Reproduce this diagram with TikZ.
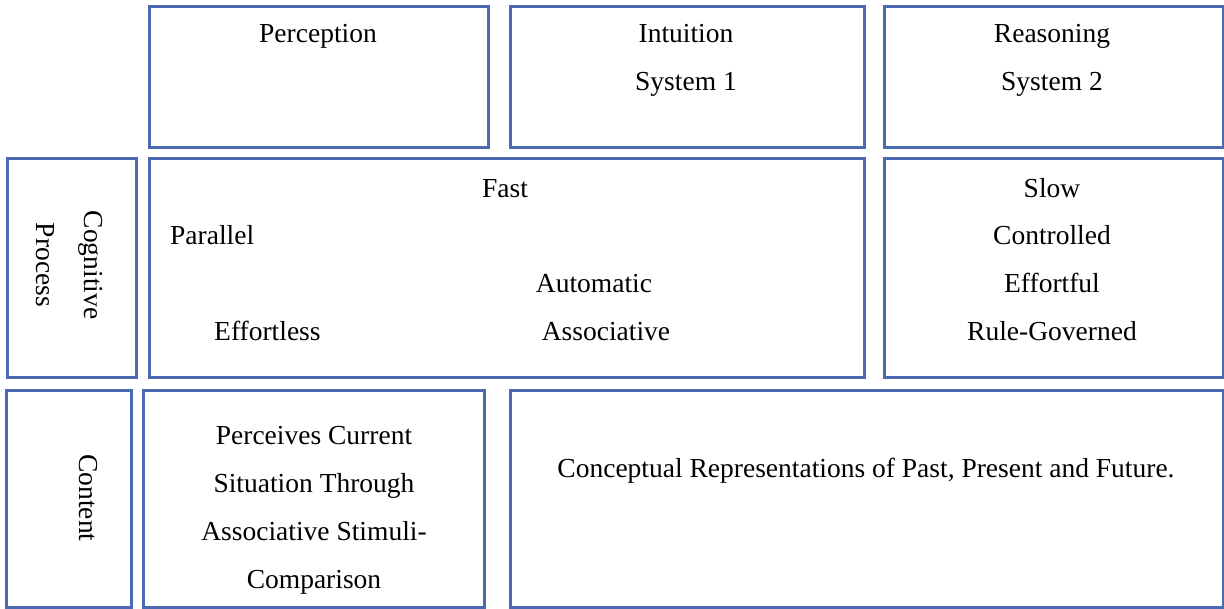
\documentclass[tikz,border=0pt]{standalone}
\usepackage{fontspec}
\setmainfont{Liberation Serif}
\definecolor{boxblue}{HTML}{4A69B0}
\begin{document}
\begin{tikzpicture}[x=1pt,y=-1pt,
  box/.style={draw=boxblue, line width=2.6pt, anchor=north west, inner sep=0pt, fill=none},
  lbl/.style={font=\fontsize{27.5}{48}\selectfont, inner sep=0pt, anchor=base, text=black},
  lbll/.style={lbl, anchor=base west},
  rot/.style={font=\fontsize{27.5}{48}\selectfont, inner sep=0pt, rotate=-90, align=center, text=black}]
\useasboundingbox (0,0) rectangle (1224,608);
% boxes
\node[box, minimum width=339pt, minimum height=141pt] (perc) at (148,5) {};
\node[box, minimum width=354pt, minimum height=141pt] (intu) at (509,5) {};
\node[box, minimum width=339pt, minimum height=141pt] (reas) at (883,5) {};
\node[box, minimum width=129pt, minimum height=219pt] (cog) at (6,157) {};
\node[box, minimum width=715pt, minimum height=219pt] (fast) at (148,157) {};
\node[box, minimum width=339pt, minimum height=219pt] (slow) at (883,157) {};
\node[box, minimum width=125pt, minimum height=217pt] (cont) at (5,389) {};
\node[box, minimum width=341pt, minimum height=217pt] (perv) at (142,389) {};
\node[box, minimum width=713pt, minimum height=217pt] (conc) at (509,389) {};
% top row
\node[lbl] (tPerc) at (318,42) {Perception};
\node[lbl] (tIntu) at (686,42) {Intuition};
\node[lbl] (tSys1) at (686,90) {System 1};
\node[lbl] (tReas) at (1052,42) {Reasoning};
\node[lbl] (tSys2) at (1052,90) {System 2};
% middle row
\node[rot] (tCog) at (69,265) {Cognitive\\Process};
\node[lbl] (tFast) at (505,197) {Fast};
\node[lbll] (tPar) at (170,244) {Parallel};
\node[lbl] (tAuto) at (594,292) {Automatic};
\node[lbll] (tEff) at (214,340) {Effortless};
\node[lbl] (tAsso) at (606,340) {Associative};
\node[lbl] (tSlow) at (1052,197) {Slow};
\node[lbl] (tCont) at (1052,244) {Controlled};
\node[lbl] (tEffo) at (1052,292) {Effortful};
\node[lbl] (tRule) at (1052,340) {Rule-Governed};
% bottom row
\node[rot] (tContent) at (88,498) {Content};
\node[lbl] (tP1) at (314,444) {Perceives Current};
\node[lbl] (tP2) at (314,492) {Situation Through};
\node[lbl] (tP3) at (314,540) {Associative Stimuli-};
\node[lbl] (tP4) at (314,588) {Comparison};
\node[lbl] (tConc) at (866,477) {Conceptual Representations of Past, Present and Future.};
\end{tikzpicture}
\end{document}
